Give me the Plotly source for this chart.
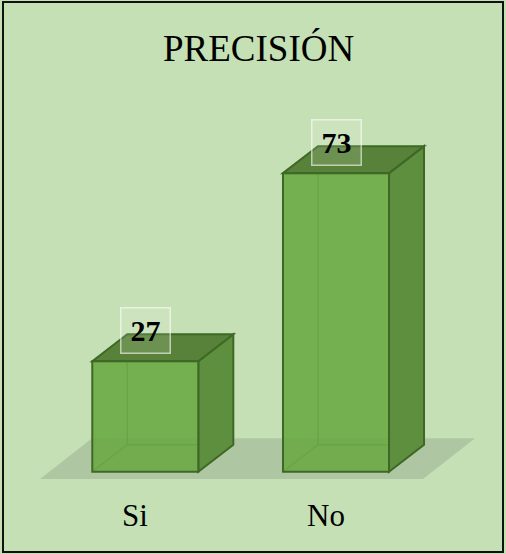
import plotly.graph_objects as go

# ---- data ----
categories = ["Si", "No"]
values = [27, 73]
title_text = "PRECISIÓN"

# ---- style / geometry constants ----
W, H = 506, 554
BG = "#C5E0B4"
FRONT = "rgba(106,168,66,0.88)"
SIDE = "rgb(94,143,62)"
TOP = "rgb(88,130,58)"
EDGE = "rgb(62,104,38)"
INNER = "rgba(80,135,52,0.9)"
FLOOR = "rgba(120,128,120,0.27)"
FONT = "Liberation Serif, Times New Roman, serif"

BAR_W = 0.556     # bar width in category units
DX = 0.1835       # depth offset (x, category units)
DY = 6.6          # depth offset (y, value units)

X_RANGE = [-0.7619, 1.8914]
Y_RANGE = [-20.12, 115.33]

xs = list(range(len(categories)))

fig = go.Figure()

shapes = []
# floor (gray parallelogram)
fx0, fx1 = xs[0] - 0.552, xs[-1] + 0.456
fy0 = -1.8
fdx, fdy = 0.273, 10.0
shapes.append(dict(type="path", xref="x", yref="y", layer="below",
                   path=f"M {fx0},{fy0} L {fx1},{fy0} L {fx1+fdx},{fy0+fdy} L {fx0+fdx},{fy0+fdy} Z",
                   fillcolor=FLOOR, line=dict(width=0)))

for x, v in zip(xs, values):
    x0, x1 = x - BAR_W / 2, x + BAR_W / 2
    # hidden (back) edges seen through the translucent front
    shapes.append(dict(type="path", xref="x", yref="y", layer="below",
                       path=f"M {x0},0 L {x0+DX},{DY} L {x1+DX},{DY}",
                       line=dict(color=INNER, width=1.5)))
    shapes.append(dict(type="path", xref="x", yref="y", layer="below",
                       path=f"M {x0+DX},{DY} L {x0+DX},{v+DY}",
                       line=dict(color=INNER, width=1.5)))
    # side face
    shapes.append(dict(type="path", xref="x", yref="y", layer="below",
                       path=f"M {x1},0 L {x1+DX},{DY} L {x1+DX},{v+DY} L {x1},{v} Z",
                       fillcolor=SIDE, line=dict(color=EDGE, width=2)))
    # top face
    shapes.append(dict(type="path", xref="x", yref="y", layer="below",
                       path=f"M {x0},{v} L {x0+DX},{v+DY} L {x1+DX},{v+DY} L {x1},{v} Z",
                       fillcolor=TOP, line=dict(color=EDGE, width=2)))

# frame around the chart
shapes.append(dict(type="rect", xref="paper", yref="paper",
                   x0=3/W, x1=1-3/W, y0=2/H, y1=1-2/H,
                   line=dict(color="#111111", width=2), fillcolor="rgba(0,0,0,0)"))

# front faces (the bars)
fig.add_trace(go.Bar(
    x=xs, y=values, width=BAR_W,
    marker=dict(color=FRONT, line=dict(color=EDGE, width=2)),
    hoverinfo="skip", showlegend=False,
))

annotations = []
# data labels
for x, v in zip(xs, values):
    annotations.append(dict(
        x=x, y=v, xref="x", yref="y", yshift=31,
        text=f"<b>{v}</b>", showarrow=False,
        xanchor="center", yanchor="middle",
        font=dict(family=FONT, size=30, color="black"),
        bordercolor="rgba(255,255,255,0.6)", borderwidth=1.5,
        bgcolor="rgba(255,255,255,0.12)", width=46, height=42,
    ))
# category labels
for x, c in zip(xs, categories):
    annotations.append(dict(
        x=x, y=-10.6, xref="x", yref="y", xshift=-10,
        text=c, showarrow=False, xanchor="center", yanchor="middle",
        font=dict(family=FONT, size=31, color="black"),
    ))
# title
annotations.append(dict(
    x=258/W, y=1-48/H, xref="paper", yref="paper",
    text=title_text, showarrow=False, xanchor="center", yanchor="middle",
    font=dict(family=FONT, size=37, color="black"),
))

fig.update_layout(
    width=W, height=H,
    margin=dict(l=0, r=0, t=0, b=0),
    paper_bgcolor=BG, plot_bgcolor=BG,
    font=dict(family=FONT),
    shapes=shapes, annotations=annotations,
    xaxis=dict(range=X_RANGE, domain=[0, 1], visible=False, fixedrange=True),
    yaxis=dict(range=Y_RANGE, domain=[0, 1], visible=False, fixedrange=True),
    showlegend=False,
)

fig.write_html(
    "out.html",
    config={"displayModeBar": False},
    post_script="document.body.style.margin='0';document.body.style.padding='0';",
)
